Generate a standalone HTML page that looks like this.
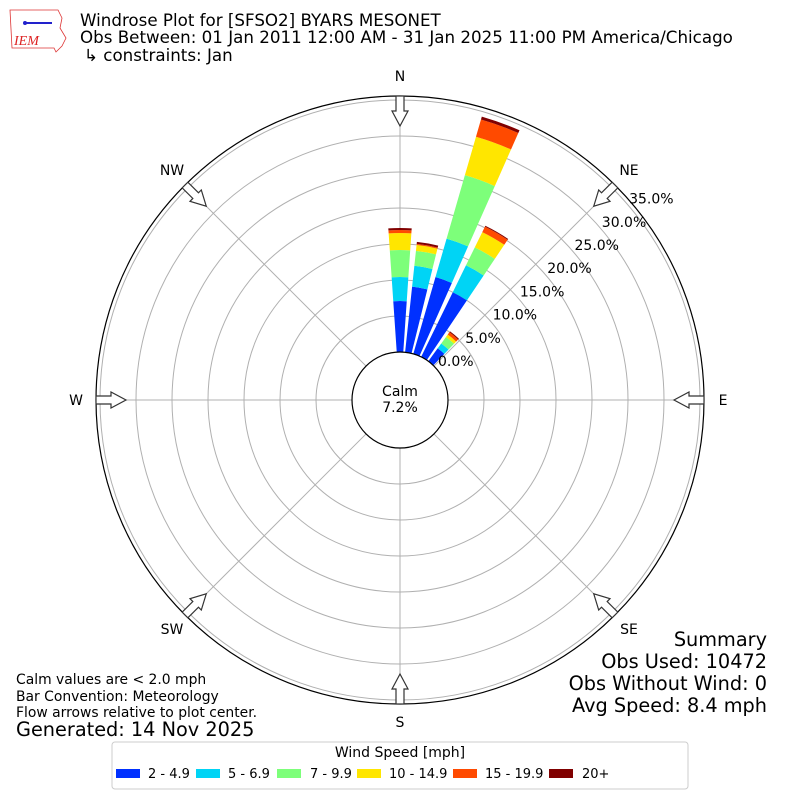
<!DOCTYPE html>
<html><head><meta charset="utf-8"><style>
body{margin:0;background:#fff}
svg{display:block;font-family:"DejaVu Sans","Liberation Sans",sans-serif}
</style></head><body>
<svg id="s" width="800" height="800" viewBox="0 0 800 800" xmlns="http://www.w3.org/2000/svg">
<rect width="800" height="800" fill="#fff"/>
<g id="grid" fill="none" stroke="#b0b0b0" stroke-width="1"></g>
<circle cx="400" cy="400" r="304" fill="none" stroke="#000" stroke-width="1.2"/>
<g id="bars"></g>
<circle cx="400" cy="400" r="48" fill="#fff" stroke="#000" stroke-width="1.2"/>
<text x="400" y="396" font-size="14" text-anchor="middle">Calm</text>
<text x="400" y="412" font-size="14" text-anchor="middle">7.2%</text>
<g id="arrows" fill="#fff" stroke="#333" stroke-width="1.2"></g>
<g font-size="14" text-anchor="middle">
<text x="400" y="81">N</text><text x="629" y="175">NE</text><text x="723" y="405">E</text>
<text x="629" y="634">SE</text><text x="400" y="727">S</text><text x="172" y="634">SW</text>
<text x="76" y="405">W</text><text x="172" y="175">NW</text>
</g>
<g font-size="14" id="rl"></g>
<g font-size="16.7"><text x="80" y="26">Windrose Plot for [SFSO2] BYARS MESONET</text>
<text x="80" y="43">Obs Between: 01 Jan 2011 12:00 AM - 31 Jan 2025 11:00 PM America/Chicago</text>
<text x="84" y="61">↳ constraints: Jan</text></g>
<g font-size="13.9"><text x="16" y="684">Calm values are &lt; 2.0 mph</text>
<text x="16" y="701">Bar Convention: Meteorology</text>
<text x="16" y="717">Flow arrows relative to plot center.</text></g>
<text x="16" y="736" font-size="19.3">Generated: 14 Nov 2025</text>
<g font-size="19.3" text-anchor="end"><text x="767" y="646">Summary</text><text x="767" y="668">Obs Used: 10472</text>
<text x="767" y="690">Obs Without Wind: 0</text><text x="767" y="712">Avg Speed: 8.4 mph</text></g>
<g transform="translate(8,8)">
<path d="M2 2 L50 2 L54 10 L52 20 L58 30 L54 38 L48 44 L46 40 L4 40 Z" fill="#fff" stroke="#d33" stroke-width="0.8"/>
<line x1="16" y1="15" x2="44" y2="15" stroke="#22c" stroke-width="2"/>
<circle cx="17" cy="15" r="2" fill="#22c"/>
<text x="6" y="37" font-size="14" font-style="italic" fill="#d22" font-family="Liberation Serif,serif">IEM</text>
</g>
<rect x="112" y="742" width="576" height="47" rx="3" fill="#fff" stroke="#ccc"/>
<text x="400" y="757" font-size="14" text-anchor="middle">Wind Speed [mph]</text>
<g font-size="13">
<rect x="116" y="769" width="24" height="9" fill="#0030ff"/><text x="148" y="778">2 - 4.9</text>
<rect x="196" y="769" width="24" height="9" fill="#00d4f5"/><text x="228" y="778">5 - 6.9</text>
<rect x="277" y="769" width="24" height="9" fill="#7dff7a"/><text x="310" y="778">7 - 9.9</text>
<rect x="357" y="769" width="24" height="9" fill="#ffe600"/><text x="389" y="778">10 - 14.9</text>
<rect x="453" y="769" width="24" height="9" fill="#ff4a00"/><text x="485" y="778">15 - 19.9</text>
<rect x="549" y="769" width="24" height="9" fill="#800000"/><text x="582" y="778">20+</text>
</g>
</svg>
<script>
const NS="http://www.w3.org/2000/svg",cx=400,cy=400;
function el(p,t,a){const e=document.createElementNS(NS,t);for(const k in a)e.setAttribute(k,a[k]);p.appendChild(e);return e;}
function pt(r,d){const a=d*Math.PI/180;return [cx+r*Math.sin(a),cy-r*Math.cos(a)];}
const g=document.getElementById('grid');
for(let i=1;i<=7;i++)el(g,'circle',{cx:400,cy:400,r:48+36*i});
for(let d=0;d<360;d+=45){const a=pt(48,d),b=pt(304,d);el(g,'line',{x1:a[0],y1:a[1],x2:b[0],y2:b[1]});}
const cols=['#0030ff','#00d4f5','#7dff7a','#ffe600','#ff4a00','#800000'];
const data=[[0,[99,123,150,167,170,172]],[10,[114,135,150,156,157,159]],[20,[128,168,234,274,292,295]],[30,[120,150,170,187,193,194]],[40,[64,70,78,81,84,85]]];
const bg=document.getElementById('bars');
function wedge(r0,r1,d,c){const w=3.9;const a=pt(r0,d-w),b=pt(r1,d-w),e=pt(r1,d+w),f=pt(r0,d+w);
el(bg,'path',{d:`M${a}L${b}A${r1} ${r1} 0 0 1 ${e}L${f}A${r0} ${r0} 0 0 0 ${a}Z`,fill:c});}
data.forEach(([d,rs])=>{let r0=48;rs.forEach((r,i)=>{if(r>r0)wedge(r0,r,d,cols[i]);r0=r;});});
const rl=document.getElementById('rl');
for(let i=0;i<8;i++){const t=el(rl,'text',{x:438+27.3*i,y:366-23.2*i});t.textContent=(5*i).toFixed(1)+'%';}
const ag=document.getElementById('arrows');
for(let d=0;d<360;d+=45){const R=304;
el(ag,'path',{d:'M-4,-8 L4,-8 L4,7 L8,7 L0,22 L-8,7 L-4,7 Z',transform:`translate(${pt(R,d)}) rotate(${d}) translate(0,8)`});}
</script>
</body></html>
